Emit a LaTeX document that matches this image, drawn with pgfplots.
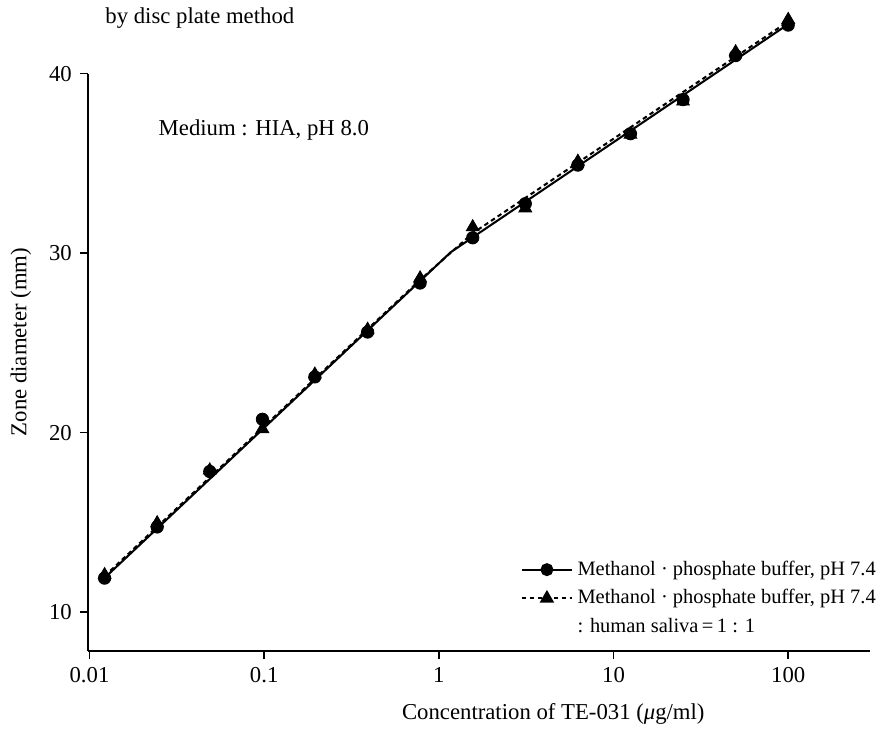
\documentclass[border=0pt]{standalone}
\usepackage{fontspec}
\setmainfont{Liberation Serif}
\usepackage{pgfplots}
\pgfplotsset{compat=1.18}

% zone diameters, two media
\begin{document}
\begin{tikzpicture}
\begin{semilogxaxis}[
  scale only axis, width=344pt, height=254pt,
  xmin=0.0098, xmax=294, ymin=7.83, ymax=40,
  axis lines=left, axis line style={-, line width=0.9pt},
  clip=false,
  xtick={0.01,0.1,1,10,100}, xticklabels={0.01,0.1,1,10,100},
  ytick={10,20,30,40},
  xminorticks=false,
  tick align=outside, major tick length=3.6pt,
  tick style={line width=0.8pt, black},
  /pgf/number format/assume math mode=true,
  xlabel={Concentration of TE-031 (\textit{μ}g/ml)},
  ylabel={Zone diameter (mm)},
  xlabel style={at={(ticklabel cs:0.595,2.4pt)}},
  ylabel style={at={(ticklabel cs:0.535,1pt)}},
  legend style={at={(0.553,0.165)}, anchor=north west, draw=none, fill=none,
    inner sep=0pt, row sep=0.8pt, cells={anchor=west}, nodes={inner xsep=2pt},
    font=\fontsize{9}{11}\selectfont},
  legend image code/.code={\draw[mark repeat=2, mark phase=2, #1]
    plot coordinates {(0pt,0pt) (11pt,0pt) (22pt,0pt)};},
]
% fitted lines
\addplot[black, line width=0.9pt, forget plot] coordinates {
  (0.0122,11.9) (1.17,30.05) (100,42.75)};
\addplot[black, line width=0.9pt, dash pattern=on 2pt off 1.5pt, forget plot] coordinates {
  (0.0122,12.0) (0.78,28.5) (1.56,31.1) (100,42.9)};
% measured points
\addplot[only marks, mark=*, mark size=2.7pt, black, forget plot] table {
x y
0.0122 11.89
0.0244 14.74
0.0488 17.83
0.0977 20.74
0.195 23.1
0.391 25.6
0.781 28.33
1.5625 30.85
3.125 32.75
6.25 34.9
12.5 36.65
25 38.55
50 41.0
100 42.7
};
\addplot[only marks, mark=triangle*, mark size=3.2pt, black, forget plot] table {
x y
0.0122 12.07
0.0244 14.96
0.0488 17.9
0.0977 20.2
0.195 23.24
0.391 25.74
0.781 28.6
1.5625 31.45
3.125 32.5
6.25 35.1
12.5 36.6
25 38.45
50 41.2
100 43.0
};
\addlegendimage{black, line width=0.9pt, mark=*, mark size=2.4pt}
\addlegendentry{Methanol · phosphate buffer, pH 7.4}
\addlegendimage{black, line width=0.9pt, dash pattern=on 2pt off 1.5pt, mark=triangle*, mark size=2.8pt, mark options={solid}}
\addlegendentry{Methanol · phosphate buffer, pH 7.4}
\addlegendimage{empty legend}
\addlegendentry{: human saliva\,=\,1 : 1}

\node[anchor=west] at (axis cs:0.0224,36.83) {Medium : HIA, pH 8.0};
\node[anchor=west] at (axis cs:0.0111,43.1) {by disc plate method};
\path (rel axis cs:-0.1125,1.1228) rectangle (rel axis cs:1.0153,-0.1298);
\end{semilogxaxis}
\end{tikzpicture}
\end{document}
